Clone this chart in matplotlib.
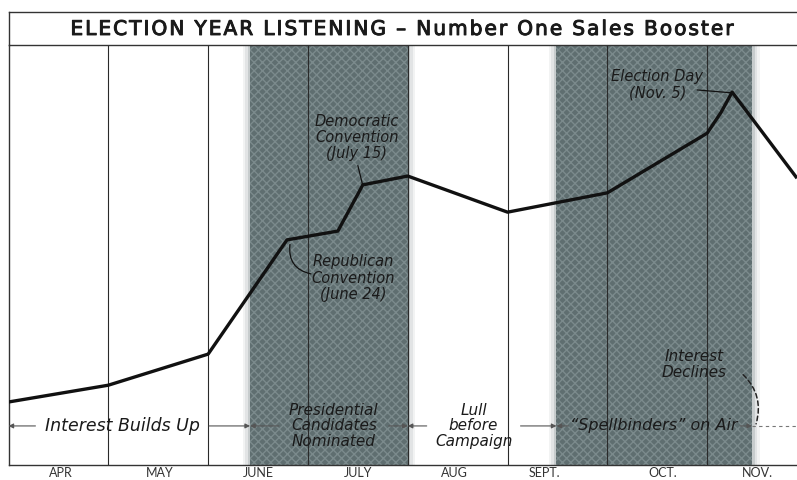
import matplotlib.pyplot as plt
import matplotlib.patheffects as pe
from matplotlib.patches import Rectangle
from matplotlib.lines import Line2D

# listening index (0 = bottom of chart, 100 = top), x in months from April 1
month_pos = [0, 1, 2, 2.79, 3.30, 3.55, 4.0, 5.0, 6.0, 7.0, 7.14, 7.25, 7.89]
listening = [15.0, 19.0, 26.4, 53.6, 55.7, 66.7, 68.8, 60.2, 64.8, 79.0, 84.0, 88.8, 68.6]

months = ["APR", "MAY", "JUNE", "JULY", "AUG", "SEPT.", "OCT.", "NOV."]
month_label_x = [0.52, 1.52, 2.5, 3.5, 4.47, 5.37, 6.56, 7.5]
month_bounds = [1, 2, 3, 4, 5, 6, 7]

shaded = [(2.42, 4.0), (5.49, 7.45)]

# phases along the bottom: (start, end, label, text left, text right)
phases = [
    (0.0, 2.42, "Interest Builds Up", 0.30, 1.98),
    (2.42, 4.0, "Presidential\nCandidates\nNominated", 2.74, 3.78),
    (4.0, 5.49, "Lull\nbefore\nCampaign", 4.22, 5.10),
    (5.49, 7.45, "\u201cSpellbinders\u201d on Air", 5.64, 7.30),
]
phase_y = 9.3

title = "ELECTION YEAR LISTENING \u2013 Number One Sales Booster"

W, H = 797, 480
fig = plt.figure(figsize=(W / 100, H / 100), dpi=100)
ax = fig.add_axes([8.5 / W, 15 / H, (W - 8.5) / W, 420 / H])
ax.set_xlim(0, 7.9)
ax.set_ylim(0, 100)

shade = "#5f6e70"
for a, b in shaded:
    ax.add_patch(Rectangle((a, 0), b - a, 100, facecolor=shade,
                           edgecolor="#7b8a8c", hatch="xxxx", linewidth=0,
                           zorder=1))
    # soft edges
    for k, al in enumerate([0.35, 0.18, 0.08]):
        w = 0.025
        ax.add_patch(Rectangle((a - (k + 1) * w, 0), w, 100, facecolor=shade,
                               alpha=al, linewidth=0, zorder=1))
        ax.add_patch(Rectangle((b + k * w, 0), w, 100, facecolor=shade,
                               alpha=al, linewidth=0, zorder=1))

for m in month_bounds:
    ax.axvline(m, color="#2a2a2a", lw=0.8, zorder=2)

ax.plot(month_pos, listening, color="#111111", lw=2.4, zorder=5,
        solid_joinstyle="round")

ital = dict(style="italic", family="DejaVu Sans", color="#1a1a1a", zorder=6)

# phase labels with dimension arrows
arr = dict(arrowstyle="-|>", color="#555555", lw=0.8, mutation_scale=7,
           shrinkA=0, shrinkB=0)
for a, b, label, tl, tr in phases:
    size = 11 if "\n" in label else 12.5
    if label.startswith("\u201c"):
        size = 11.5
    ax.text((tl + tr) / 2, phase_y, label, ha="center", va="center",
            fontsize=size, linespacing=1.05, **ital)
    ax.annotate("", xy=(a, phase_y), xytext=(tl - 0.03, phase_y),
                arrowprops=arr, zorder=4)
    ax.annotate("", xy=(b, phase_y), xytext=(tr + 0.03, phase_y),
                arrowprops=arr, zorder=4)
ax.plot([7.45, 7.9], [phase_y, phase_y], color="#777777", lw=0.8,
        ls=(0, (3, 3)), zorder=4)

# event annotations
lead = dict(arrowstyle="-", color="#111111", lw=0.9, shrinkA=0, shrinkB=0)
ax.text(3.49, 78.0, "Democratic\nConvention\n(July 15)", ha="center",
        va="center", fontsize=10.5, linespacing=1.1, **ital)
ax.annotate("", xy=(3.55, 66.5), xytext=(3.50, 71.3), arrowprops=lead)

ax.text(3.45, 44.5, "Republican\nConvention\n(June 24)", ha="center",
        va="center", fontsize=10.5, linespacing=1.1, **ital)
ax.annotate("", xy=(2.82, 52.5), xytext=(3.03, 45.5),
            arrowprops=dict(lead, connectionstyle="arc3,rad=-0.45"))

ax.text(6.50, 90.5, "Election Day\n(Nov. 5)", ha="center", va="center",
        fontsize=10.5, linespacing=1.1, **ital)
ax.annotate("", xy=(7.25, 88.6), xytext=(6.90, 89.3), arrowprops=lead)

ax.text(6.87, 24.0, "Interest\nDeclines", ha="center", va="center",
        fontsize=11, linespacing=1.1, **ital)
ax.annotate("", xy=(7.49, phase_y + 0.5), xytext=(7.36, 21.5),
            arrowprops=dict(arrowstyle="-", color="#222222", lw=1.1,
                            ls=(0, (3, 2)), shrinkA=0, shrinkB=0,
                            connectionstyle="arc3,rad=-0.3"))

ax.set_xticks([])
ax.set_yticks([])
for s in ["top", "right"]:
    ax.spines[s].set_visible(False)
for s in ["left", "bottom"]:
    ax.spines[s].set_color("#333333")
    ax.spines[s].set_linewidth(1.0)

for x, m in zip(month_label_x, months):
    fig.text((8.5 + x * 99.8) / W, 1 / H, m, ha="center", va="bottom",
             fontsize=9, family="Lato", color="#333333")

# title box
top = 1 - 12 / H
bot = 1 - 45 / H
fig.add_artist(Line2D([8.5 / W, 1], [top, top], color="#333333", lw=1.0))
fig.add_artist(Line2D([8.5 / W, 1], [bot, bot], color="#333333", lw=1.0))
fig.add_artist(Line2D([8.5 / W, 8.5 / W], [bot, top], color="#333333", lw=1.0))
spaced = "\u200a".join(title).replace("\u200a \u200a", "\u2002")
fig.text(403 / W, (top + bot) / 2 - 0.002, spaced,
         ha="center", va="center", fontsize=14.5, family="DejaVu Sans",
         color="#1a1a1a",
         path_effects=[pe.withStroke(linewidth=0.7, foreground="#1a1a1a")])

fig.savefig("out.png", dpi=100, facecolor="white")
